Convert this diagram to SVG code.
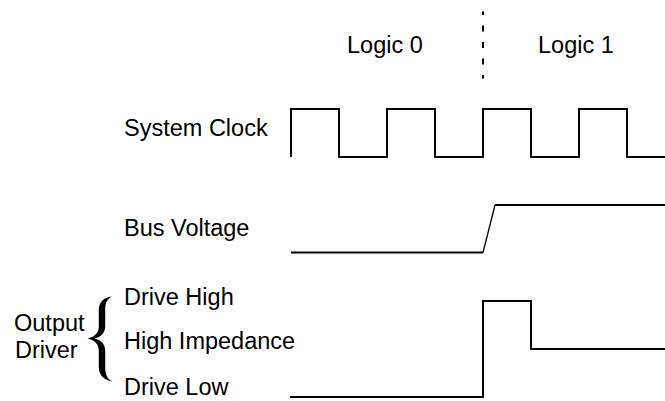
<svg xmlns="http://www.w3.org/2000/svg" width="665" height="401" viewBox="0 0 665 401">
<style>
text{font-family:"Liberation Sans",Arial,sans-serif;font-size:23.5px;fill:#000}
.w{fill:none;stroke:#000;stroke-width:2;stroke-linejoin:miter;stroke-linecap:butt}
</style>
<rect width="665" height="401" fill="#fff"/>
<g id="header">
<text x="347" y="53">Logic 0</text>
<text x="538" y="53">Logic 1</text>
</g>
<g id="labels">
<text x="124" y="136">System Clock</text>
<text x="124" y="236">Bus Voltage</text>
<text x="124" y="305">Drive High</text>
<text x="124" y="349">High Impedance</text>
<text x="124" y="395">Drive Low</text>
<text x="14" y="331">Output</text>
<text x="15" y="357.5">Driver</text>
<path d="M112,296.5 C103.5,297.5 98.8,302 98.8,310 L98.8,326 C98.8,333 94.5,337 87.5,338.5 C94.5,340 98.8,344 98.8,351 L98.8,367 C98.8,375 103.5,379.5 112,381.5 C107.5,379 105.2,375 105.2,367 L105.2,351 C105.2,344 101,340 94.5,338.5 C101,337 105.2,333 105.2,326 L105.2,310 C105.2,302 107.5,299 112,296.5 Z" fill="#000"/>
</g>
<g id="waveforms">
<line x1="483" y1="11.5" x2="483" y2="78.5" stroke="#000" stroke-width="2" stroke-dasharray="6 10.5" stroke-dashoffset="2.5"/>
<path class="w" d="M291,157 V109 H339 V157 H387 V109 H435 V157 H483 V109 H531 V157 H579 V109 H627 V157 H665"/>
<path class="w" d="M291,252.5 H483"/>
<line x1="483" y1="252.5" x2="495" y2="205" stroke="#000" stroke-width="1.3"/>
<path class="w" d="M495,205 H665"/>
<path class="w" d="M290,397 H483 V301 H531 V349 H665"/>
</g>
</svg>
